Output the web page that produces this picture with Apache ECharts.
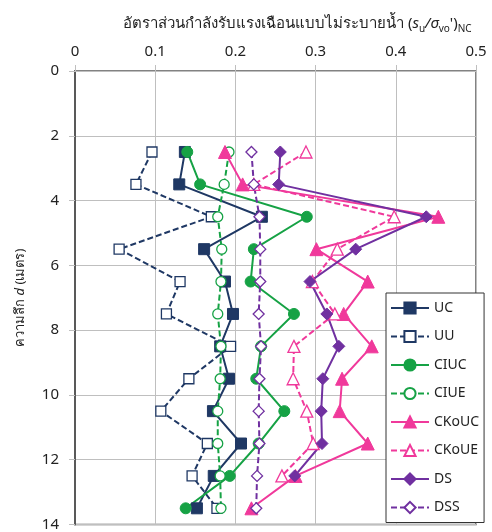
<!DOCTYPE html>
<html>
<head>
<meta charset="utf-8">
<script src="https://cdn.jsdelivr.net/npm/echarts@6/dist/echarts.min.js"></script>
<style>
  html, body { margin: 0; padding: 0; background: #fff; }
  #chart { width: 492px; height: 532px; }
</style>
</head>
<body>
<div id="chart"></div>
<script>
// ความลึกของจุดทดสอบ (เมตร)
const depths = [2.5, 3.5, 4.5, 5.5, 6.5, 7.5, 8.5, 9.5, 10.5, 11.5, 12.5, 13.5];

// อัตราส่วน su/σvo' ของแต่ละวิธีทดสอบ (null = ไม่มีข้อมูล)
const UC    = [0.137, 0.130, 0.233, 0.161, 0.187, 0.197, 0.181, 0.192, 0.172, 0.207, 0.173, 0.152];
const UU    = [0.096, 0.076, 0.170, 0.055, 0.131, 0.114, 0.194, 0.142, 0.107, 0.165, 0.146, 0.177];
const CIUC  = [0.140, 0.156, 0.289, 0.223, 0.219, 0.273, 0.232, 0.226, 0.261, 0.229, 0.193, 0.138];
const CIUE  = [0.192, 0.186, 0.178, 0.183, 0.182, 0.178, 0.182, 0.181, 0.178, 0.178, 0.181, 0.182];
const CKoUC = [0.187, 0.209, 0.453, 0.301, 0.365, 0.335, 0.370, 0.333, 0.330, 0.365, 0.275, 0.220];
const CKoUE = [0.288, 0.223, 0.398, 0.327, 0.296, 0.324, 0.273, 0.272, 0.289, 0.297, 0.258, null];
const DS    = [0.256, 0.254, 0.438, 0.350, 0.293, 0.314, 0.329, 0.309, 0.307, 0.308, 0.274, null];
const DSS   = [0.220, 0.223, 0.230, 0.231, 0.231, 0.229, 0.232, 0.230, 0.229, 0.230, 0.227, 0.226];

const NAVY = "#1f3864";
const GREEN = "#16a245";
const PINK = "#f0399b";
const PURPLE = "#7030a0";

const FONT = "'Noto Sans', 'DejaVu Sans', sans-serif";

function pairs(vals) {
  const out = [];
  vals.forEach((v, i) => {
    if (v !== null) out.push([v, depths[i]]);
  });
  return out;
}

function mkSeries(name, vals, color, symbol, size, open) {
  return {
    name: name,
    type: "line",
    data: pairs(vals),
    symbol: symbol,
    symbolSize: size,
    showAllSymbol: true,
    lineStyle: { color: color, width: 2, type: open ? [6, 3] : "solid" },
    itemStyle: open
      ? { color: "#fff", borderColor: color, borderWidth: 1.3 }
      : { color: color, borderColor: color, borderWidth: 1 },
    emphasis: { disabled: true }
  };
}

const myChart = echarts.init(document.getElementById("chart"));
myChart.setOption({
  animation: false,
  textStyle: { fontFamily: FONT },
  title: {
    left: 118,
    top: 8,
    text: "{n|อัตราส่วนกำลังรับแรงเฉือนแบบไม่ระบายน้ำ (}{i|s}{sub|u}{i|/σ}{sub|vo}{n|')}{sub|NC}",
    textStyle: {
      fontWeight: "normal",
      rich: {
        n: { fontSize: 15, color: "#222", fontWeight: "normal", fontFamily: FONT, lineHeight: 22 },
        i: { fontSize: 15, color: "#222", fontWeight: "normal", fontStyle: "italic", fontFamily: FONT, lineHeight: 22 },
        sub: { fontSize: 10, color: "#222", fontWeight: "normal", fontFamily: FONT, lineHeight: 22, padding: [10, 0, 0, 0] }
      }
    }
  },
  grid: {
    left: 75,
    top: 71,
    width: 401,
    height: 457,
    show: true,
    borderColor: "#595959",
    borderWidth: 1.5
  },
  legend: {
    orient: "vertical",
    left: 386,
    top: 293,
    itemWidth: 38,
    itemHeight: 14,
    itemGap: 14.5,
    padding: [8, 5, 8, 4],
    backgroundColor: "#fff",
    borderColor: "#333",
    borderWidth: 1,
    borderRadius: 0,
    textStyle: { fontSize: 14, color: "#222", fontFamily: FONT }
  },
  xAxis: {
    type: "value",
    position: "top",
    min: 0,
    max: 0.5,
    interval: 0.1,
    axisLine: { show: true, lineStyle: { color: "#bfbfbf", width: 1 } },
    axisTick: { show: true, length: 6, lineStyle: { color: "#bfbfbf" } },
    axisLabel: { fontSize: 15, color: "#222", margin: 12 },
    splitLine: { show: true, lineStyle: { color: "#bfbfbf", width: 1 } }
  },
  yAxis: {
    type: "value",
    inverse: true,
    min: 0,
    max: 14,
    interval: 2,
    name: "{n|ความลึก }{i|d}{n| (เมตร)}",
    nameLocation: "middle",
    nameGap: 48,
    nameTextStyle: {
      rich: {
        n: { fontSize: 13, color: "#222", fontFamily: FONT },
        i: { fontSize: 13, color: "#222", fontStyle: "italic", fontFamily: FONT }
      }
    },
    axisLine: { show: true, lineStyle: { color: "#595959", width: 2 } },
    axisTick: { show: true, length: 6, lineStyle: { color: "#bfbfbf" } },
    axisLabel: { fontSize: 15, color: "#222", margin: 16 },
    splitLine: { show: true, lineStyle: { color: "#bfbfbf", width: 1 } }
  },
  series: [
    mkSeries("UC", UC, NAVY, "rect", 11, false),
    mkSeries("UU", UU, NAVY, "rect", 10, true),
    mkSeries("CIUC", CIUC, GREEN, "circle", 11, false),
    mkSeries("CIUE", CIUE, GREEN, "circle", 10, true),
    mkSeries("CKoUC", CKoUC, PINK, "triangle", 13, false),
    mkSeries("CKoUE", CKoUE, PINK, "triangle", 12, true),
    mkSeries("DS", DS, PURPLE, "diamond", 12, false),
    mkSeries("DSS", DSS, PURPLE, "diamond", 11, true)
  ]
});
</script>
</body>
</html>
